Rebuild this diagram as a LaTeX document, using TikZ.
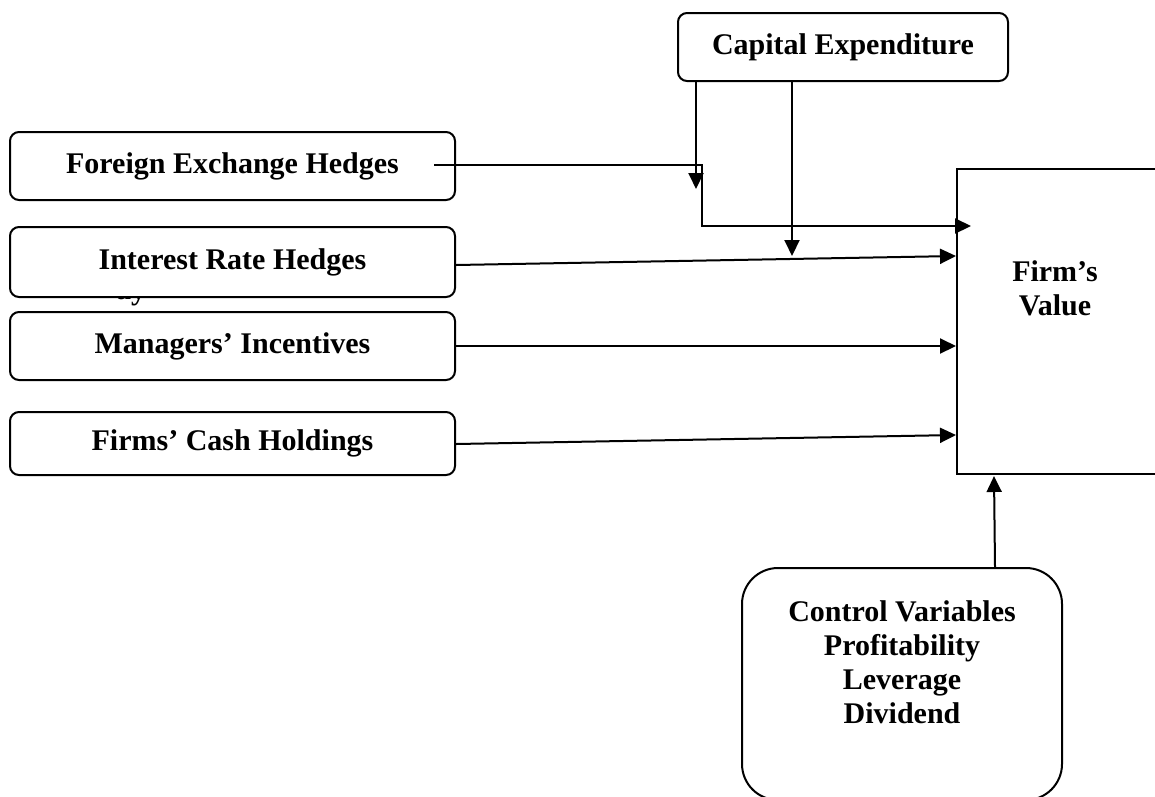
\documentclass[tikz,border=0pt]{standalone}
\usepackage{fontspec}
\setmainfont{Liberation Serif}
\usetikzlibrary{arrows.meta,calc}
\begin{document}
\begin{tikzpicture}[x=1pt,y=-1pt,
  box/.style={draw,line width=2pt,rounded corners=9pt,fill=white,inner sep=0pt},
  lbl/.style={font=\bfseries\fontsize{30}{34}\selectfont,align=center},
  link/.style={line width=2pt,-{Triangle[length=16pt,width=15pt]}},
]
\useasboundingbox[fill=white] (0,0) rectangle (1155,796);

% stray caption partly covered by the interest-rate box
\node[lbl,anchor=base west,inner sep=0pt] (stray) at (116,299) {ay};

% left-hand driver boxes
\node[box,lbl,minimum width=445pt,minimum height=68pt] (fx) at (232.5,166) {Foreign Exchange Hedges};
\node[box,lbl,minimum width=445pt,minimum height=70pt] (ir) at (232.5,262) {Interest Rate Hedges};
\node[box,lbl,minimum width=445pt,minimum height=68pt] (mi) at (232.5,346) {Managers’ Incentives};
\node[box,lbl,minimum width=445pt,minimum height=63pt] (cf) at (232.5,443.5) {Firms’ Cash Holdings};

% moderator on top
\node[box,lbl,minimum width=330pt,minimum height=68pt] (cap) at (843,47) {Capital Expenditure};

% outcome box
\node[draw,line width=2pt,fill=white,inner sep=0pt,minimum width=203pt,minimum height=305pt] (fv) at (1058.5,321.5) {};
\node[lbl] (fvtxt) at (1055,288) {Firm’s\\Value};

% control variables
\node[box,rounded corners=36pt,minimum width=320pt,minimum height=232pt] (ctrl) at (902,684) {};
\node[lbl] (ctrltxt) at (902,662) {Control Variables\\Profitability\\Leverage\\Dividend};

% connectors
\coordinate (fxin) at ($(fv.north west)+(15,58)$);
\coordinate (capL) at ($(cap.south west)+(19,107)$);
\coordinate (capR) at ($(cap.south west)+(115,174)$);

\draw[link] ([xshift=-22pt,yshift=1pt]fx.east) -| ($(fxin)+(-269,0)$) -- (fxin);
\draw[link] (cap.south west -| capL) -- (capL);
\draw[link] (cap.south west -| capR) -- (capR);
\draw[link] ([yshift=-3pt]ir.east) -- ($(fv.north west)+(0,88)$);
\draw[link] (mi.east) -- (mi.east -| fv.west);
\draw[link] ([yshift=-0.5pt]cf.east) -- ($(fv.north west)+(0,267)$);
\draw[link] ($(ctrl.north)+(93,0)$) -- ($(fv.south west)+(38,1)$);
\end{tikzpicture}
\end{document}
